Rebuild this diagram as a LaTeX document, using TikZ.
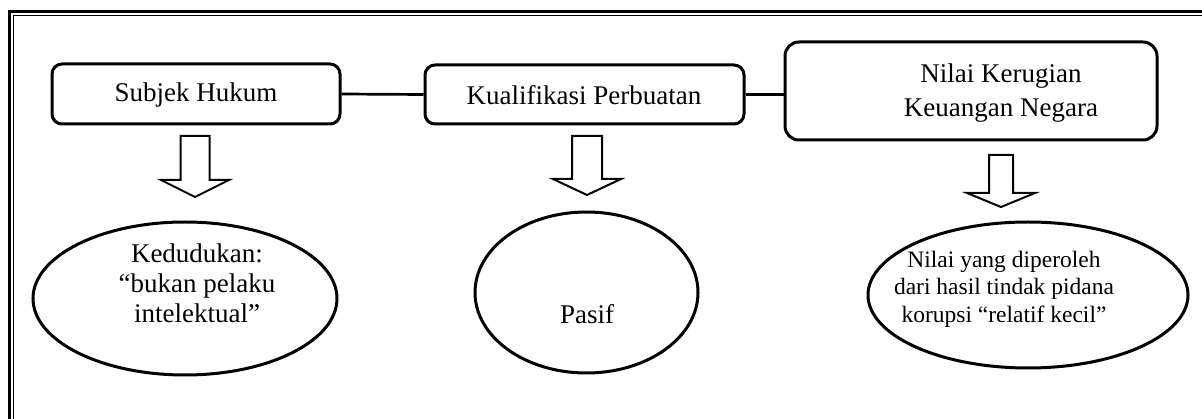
\documentclass[tikz,border=0pt]{standalone}
\usepackage{fontspec}
\setmainfont{Liberation Serif}
\usetikzlibrary{shapes.geometric}

\tikzset{
  box/.style={draw, line width=3pt, rounded corners=10pt},
  oval/.style={draw, ellipse, line width=3pt, inner sep=0pt},
  txt/.style={font=\fontsize{27}{30}\selectfont, align=center, inner sep=0pt},
  link/.style={line width=2.7pt},
}

\begin{document}
\begin{tikzpicture}[x=1pt, y=-1pt]
  \clip (0,0) rectangle (1202,419);
  % double frame
  \draw[line width=2.3pt] (9.5,11.5) rectangle (1240,460);
  \draw[line width=1pt] (13.5,15.5) rectangle (1240,460);

  % top boxes
  \node[box, minimum width=288pt, minimum height=60pt] (b1) at (196,94) {};
  \node[box, minimum width=319pt, minimum height=59pt] (b2) at (584.5,94.5) {};
  \node[box, rounded corners=14pt, minimum width=372pt, minimum height=98pt] (b3) at (971,91) {};
  \node[txt] (t1) at (196,95) {Subjek Hukum};
  \node[txt] (t2) at (584,95) {Kualifikasi Perbuatan};
  \node[txt, font=\fontsize{27}{34}\selectfont] (t3) at (1001,93) {Nilai Kerugian\\Keuangan Negara};

  \draw[link] (b1.east) -- (b2.west);
  \draw[link] (b2.east) -- (b2.east -| b3.west);

  % block arrows
  \foreach \cx/\ytop/\ybase/\ytip/\sw in {195/136/180/197/14.5,587/136/179/195/15,1001/155/193/207/12}{
    \draw[line width=2pt] ({\cx-\sw},\ytop) -- ({\cx+\sw},\ytop) -- ({\cx+\sw},\ybase)
      -- ({\cx+34},\ybase) -- (\cx,\ytip) -- ({\cx-34},\ybase) -- ({\cx-\sw},\ybase) -- cycle;
  }

  % ellipses
  \node[oval, minimum width=304pt, minimum height=153pt] (e1) at (185,298.5) {};
  \node[oval, minimum width=223pt, minimum height=161pt] (e2) at (586.5,292.5) {};
  \node[oval, minimum width=320pt, minimum height=146pt] (e3) at (1028,295) {};
  \node[txt] (s1) at (197,283) {Kedudukan:\\“bukan pelaku\\intelektual”};
  \node[txt] (s2) at (587,314) {Pasif};
  \node[txt, font=\fontsize{23.5}{27.5}\selectfont] (s3) at (1004,289) {Nilai yang diperoleh\\dari hasil tindak pidana\\korupsi “relatif kecil”};
\end{tikzpicture}
\end{document}
